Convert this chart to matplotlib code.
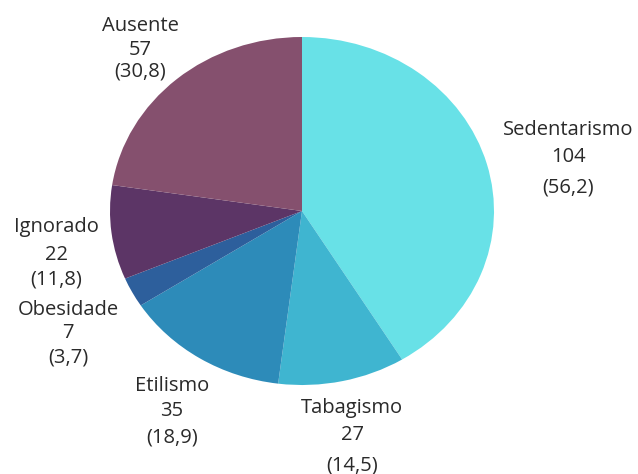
import matplotlib.pyplot as plt

# Fatores de risco
labels = ["Sedentarismo", "Tabagismo", "Etilismo", "Obesidade", "Ignorado", "Ausente"]
counts = [104, 27, 35, 7, 22, 57]
percents = ["(56,2)", "(14,5)", "(18,9)", "(3,7)", "(11,8)", "(30,8)"]
colors = ["#68e1e7", "#3fb5d0", "#2d8bb9", "#2d5f9c", "#5c3566", "#85506e"]

# label anchor points (pixels from top-left) and line offsets
label_pos = {
    "Sedentarismo": (568, [130, 157, 187]),
    "Tabagismo": (352, [408, 435, 465]),
    "Etilismo": (172, [386, 411, 437]),
    "Obesidade": (68, [310, 333, 357]),
    "Ignorado": (56, [227, 255, 279]),
    "Ausente": (140, [26, 50, 72]),
}

W, H = 638, 474
plt.rcParams["font.family"] = ["Open Sans", "DejaVu Sans"]
fig = plt.figure(figsize=(W / 100, H / 100), dpi=100)
ax = fig.add_axes([110 / W, 89 / H, 384 / W, 348 / H])
ax.pie(counts, colors=colors, startangle=90, counterclock=False,
       wedgeprops={"linewidth": 0})
ax.set_aspect("auto")
ax.set_xlim(-1, 1)
ax.set_ylim(-1, 1)
ax.axis("off")

for lab, n, pct in zip(labels, counts, percents):
    x, ys = label_pos[lab]
    for txt, y in zip([lab, str(n), pct], ys):
        fig.text(x / W, 1 - y / H, txt, ha="center", va="center",
                 fontsize=14.5, color="#2a2a2a")

fig.savefig("out.png", dpi=100)
